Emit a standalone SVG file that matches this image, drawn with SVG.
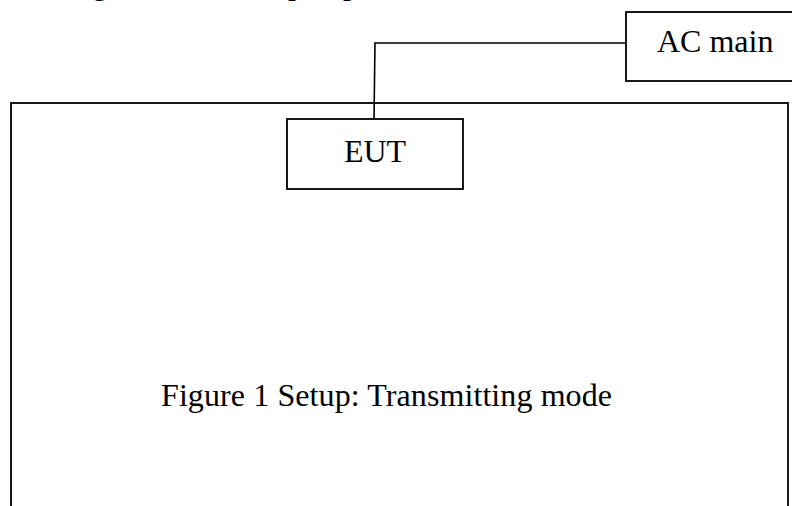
<svg xmlns="http://www.w3.org/2000/svg" width="792" height="506" viewBox="0 0 792 506">
<style>
.box{fill:#fff;stroke:#000;stroke-width:1.8}
.line{fill:none;stroke:#000;stroke-width:1.6}
.t{font-family:"Liberation Serif","Times New Roman",serif;font-size:32px;fill:#000}
</style>
<rect width="792" height="506" fill="#fff"/>
<text class="t" x="92 288 343" y="-6">gpp</text>
<g id="enclosure"><rect class="box" x="11" y="103" width="777" height="420"/></g>
<g id="connectors"><polyline class="line" points="626,43 375,43 374,119"/></g>
<g id="ac-main"><rect class="box" x="626" y="12" width="180" height="69"/><text class="t" x="657" y="52">AC main</text></g>
<g id="eut"><rect class="box" x="287" y="119" width="176" height="70"/><text class="t" x="375" y="162" text-anchor="middle">EUT</text></g>
<g id="caption"><text class="t" x="161" y="406" textLength="451">Figure 1 Setup: Transmitting mode</text></g>
</svg>
